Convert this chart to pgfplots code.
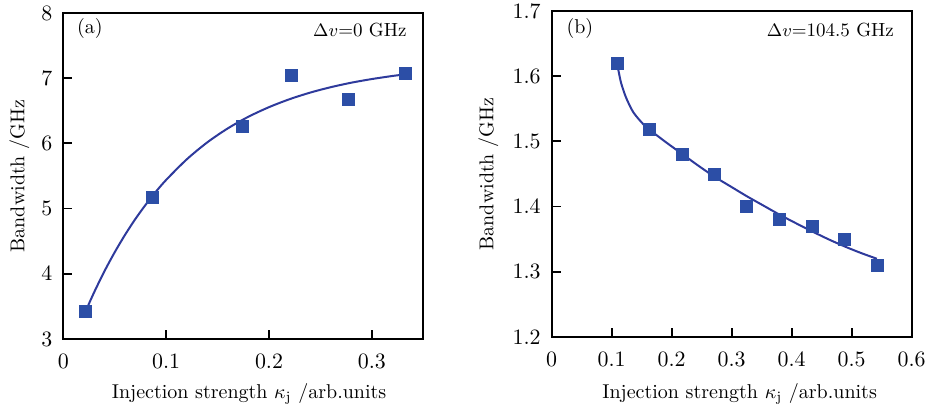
\documentclass[border=0pt]{standalone}
\usepackage{pgfplots}
\pgfplotsset{compat=1.18}
\definecolor{mkblue}{RGB}{44,78,166}
\definecolor{lnblue}{RGB}{46,58,156}
\pgfplotsset{
  panel/.style={
    scale only axis, width=180pt, height=163pt,
    axis line style={line width=0.9pt},
    tick align=inside, xtick pos=left, ytick pos=left,
    major tick length=4.5pt,
    every tick/.style={line width=0.9pt, black},
    tick label style={font=\fontsize{10.5}{12}\selectfont},
    label style={font=\fontsize{10}{12}\selectfont},
    xticklabel style={yshift=-4pt},
    yticklabel style={xshift=-2pt},
    xlabel={Injection strength $\kappa_{\mathrm{j}}$ /arb.units},
    ylabel={Bandwidth /GHz},
    clip=false,
  },
}
\begin{document}
\begin{tikzpicture}[x=1pt,y=1pt]
\path[use as bounding box] (0,0) rectangle (462.5,205);
\begin{axis}[panel,
  at={(31.65pt,35.5pt)}, anchor=south west,
  xmin=0, xmax=0.35, ymin=3, ymax=8,
  xtick={0,0.1,0.2,0.3}, ytick={3,4,5,6,7,8},
  every axis y label/.append style={at={(axis description cs:-0.122,0.5)}, anchor=center},
  every axis x label/.append style={at={(axis description cs:0.516,-0.169)}, anchor=center},
]
\addplot[lnblue, line width=1pt, smooth] coordinates {
(0.022,3.437) (0.03,3.717) (0.04,4.039) (0.05,4.331) (0.06,4.597) (0.07,4.839)
(0.08,5.058) (0.09,5.258) (0.10,5.440) (0.12,5.755) (0.14,6.016) (0.16,6.231)
(0.18,6.409) (0.20,6.556) (0.22,6.678) (0.24,6.779) (0.26,6.862) (0.28,6.931)
(0.30,6.987) (0.32,7.034) (0.335,7.064)};
\addplot[only marks, mark=square*, mark size=3pt, mkblue] coordinates {
(0.0218,3.42) (0.087,5.165) (0.174,6.26) (0.222,7.04) (0.277,6.67) (0.333,7.08)};
\node[anchor=west, inner sep=0, font=\fontsize{10}{12}\selectfont] at ([xshift=6.7pt,yshift=-7.9pt]rel axis cs:0,1) {(a)};
\node[anchor=east, inner sep=0, font=\fontsize{9.5}{12}\selectfont] at ([xshift=-8.2pt,yshift=-8.3pt]rel axis cs:1,1) {$\Delta v$=0 GHz};
\end{axis}
\begin{axis}[panel,
  at={(275.85pt,36.5pt)}, anchor=south west,
  xmin=0, xmax=0.6, ymin=1.2, ymax=1.7,
  xtick={0,0.1,0.2,0.3,0.4,0.5,0.6}, ytick={1.2,1.3,1.4,1.5,1.6,1.7},
  yticklabel style={/pgf/number format/.cd, fixed, fixed zerofill, precision=1},
  every axis y label/.append style={at={(axis description cs:-0.176,0.5)}, anchor=center},
  every axis x label/.append style={at={(axis description cs:0.522,-0.175)}, anchor=center},
]
\addplot[lnblue, line width=1pt, smooth] coordinates {
(0.111,1.610) (0.115,1.592) (0.120,1.577) (0.1254,1.564) (0.1365,1.544) (0.153,1.526)
(0.163,1.518) (0.190,1.499) (0.217,1.481) (0.244,1.463) (0.271,1.446) (0.298,1.431)
(0.325,1.416) (0.352,1.402) (0.379,1.388) (0.406,1.375) (0.434,1.362) (0.461,1.350)
(0.488,1.339) (0.515,1.329) (0.542,1.320)};
\addplot[only marks, mark=square*, mark size=3pt, mkblue] coordinates {
(0.109,1.62) (0.163,1.519) (0.217,1.48) (0.271,1.449) (0.325,1.40) (0.379,1.38)
(0.434,1.37) (0.488,1.35) (0.542,1.31)};
\node[anchor=west, inner sep=0, font=\fontsize{10}{12}\selectfont] at ([xshift=7.2pt,yshift=-8.7pt]rel axis cs:0,1) {(b)};
\node[anchor=east, inner sep=0, font=\fontsize{9.5}{12}\selectfont] at ([xshift=-8.7pt,yshift=-9.5pt]rel axis cs:1,1) {$\Delta v$=104.5 GHz};
\end{axis}
\end{tikzpicture}
\end{document}
